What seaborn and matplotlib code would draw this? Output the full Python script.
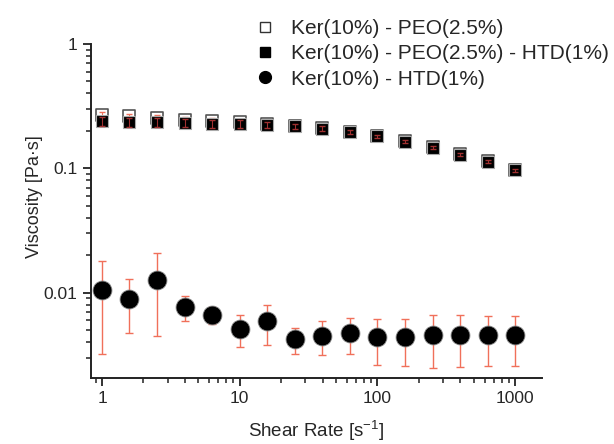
import numpy as np
import pandas as pd
import matplotlib
matplotlib.use("Agg")
import matplotlib.pyplot as plt
import seaborn as sns
from matplotlib.lines import Line2D
from matplotlib.ticker import LogLocator, NullFormatter, FixedLocator, FixedFormatter

shear = [1, 1.58, 2.51, 3.98, 6.31, 10, 15.8, 25.1, 39.8, 63.1, 100, 158, 251, 398, 631, 1000]

peo = [0.270, 0.262, 0.255, 0.247, 0.241, 0.236, 0.228, 0.220, 0.210, 0.197, 0.183, 0.165, 0.148, 0.130, 0.114, 0.097]
peo_err = [0.012, 0.012, 0.012, 0.011, 0.011, 0.01, 0.01, 0.008, 0.007, 0.006, 0.005, 0.004, 0.003, 0.003, 0.003, 0.002]

peo_htd = [0.239, 0.236, 0.235, 0.232, 0.229, 0.228, 0.225, 0.218, 0.209, 0.196, 0.182, 0.164, 0.147, 0.129, 0.113, 0.0964]
peo_htd_err = [0.02, 0.02, 0.019, 0.018, 0.016, 0.015, 0.012, 0.01, 0.008, 0.006, 0.005, 0.004, 0.004, 0.003, 0.003, 0.003]

htd = [0.0106, 0.0089, 0.0126, 0.0077, 0.00666, 0.0051, 0.0059, 0.00425, 0.00452, 0.00471, 0.0044, 0.0044, 0.00455, 0.0046, 0.0046, 0.0046]
htd_hi = [0.0180, 0.0129, 0.0207, 0.00934, 0.0077, 0.0066, 0.0079, 0.0052, 0.00593, 0.00627, 0.0061, 0.0062, 0.0066, 0.0066, 0.0065, 0.0065]
htd_lo = [0.00322, 0.00477, 0.00449, 0.00593, 0.00564, 0.00364, 0.0038, 0.0032, 0.00314, 0.0032, 0.00264, 0.00258, 0.0025, 0.00254, 0.00258, 0.00257]

labels = ["Ker(10%) - PEO(2.5%)", "Ker(10%) - PEO(2.5%) - HTD(1%)", "Ker(10%) - HTD(1%)"]

sns.set_style("ticks")
plt.rcParams['font.family'] = ['Liberation Sans', 'DejaVu Sans']

fig = plt.figure(figsize=(6.14, 4.44), dpi=100)
ax = fig.add_axes([0.148, 0.149, 0.735, 0.752])

red = "#f0705a"
dred = "#a03030"
df1 = pd.DataFrame({"x": shear, "y": peo})
df2 = pd.DataFrame({"x": shear, "y": peo_htd})
df3 = pd.DataFrame({"x": shear, "y": htd})

sns.scatterplot(data=df1, x="x", y="y", ax=ax, marker="s", s=85, facecolor="white",
                edgecolor="#555555", linewidth=1.2, zorder=2)
sns.scatterplot(data=df2, x="x", y="y", ax=ax, marker="s", s=85, color="black",
                edgecolor="#aaaaaa", linewidth=0.8, zorder=3)
sns.scatterplot(data=df3, x="x", y="y", ax=ax, marker="o", s=185, color="black",
                edgecolor="#888888", linewidth=0.6, zorder=2)

ax.errorbar(shear, peo, yerr=peo_err, fmt="none", ecolor=red, elinewidth=0.8, capsize=2, zorder=2.5)
ax.errorbar(shear, peo_htd, yerr=peo_htd_err, fmt="none", ecolor=dred, elinewidth=0.8, capsize=2, zorder=4)
h = np.array(htd)
ax.errorbar(shear, htd, yerr=[h - np.array(htd_lo), np.array(htd_hi) - h], fmt="none",
            ecolor=red, elinewidth=1, capsize=3, zorder=1)

ax.set_xscale("log")
ax.set_yscale("log")
ax.set_xlim(0.83, 1570)
ax.set_ylim(0.00207, 1.0)

ax.xaxis.set_major_locator(FixedLocator([1, 10, 100, 1000]))
ax.xaxis.set_major_formatter(FixedFormatter(["1", "10", "100", "1000"]))
ax.xaxis.set_minor_locator(LogLocator(base=10, subs=np.arange(2, 10)))
ax.xaxis.set_minor_formatter(NullFormatter())
ax.yaxis.set_major_locator(FixedLocator([0.01, 0.1, 1]))
ax.yaxis.set_major_formatter(FixedFormatter(["0.01", "0.1", "1"]))
ax.yaxis.set_minor_locator(LogLocator(base=10, subs=np.arange(2, 10)))
ax.yaxis.set_minor_formatter(NullFormatter())

ax.tick_params(which="major", direction="out", length=6, width=1.3, labelsize=12.5, color="#222222")
ax.tick_params(which="minor", direction="out", length=3.5, width=1.1, color="#222222")
for s in ["top", "right"]:
    ax.spines[s].set_visible(False)
for s in ["left", "bottom"]:
    ax.spines[s].set_linewidth(1.4)
    ax.spines[s].set_color("#222222")

ax.set_xlabel("Shear Rate [s$^{\\mathregular{-1}}$]", fontsize=13.5, labelpad=9)
ax.set_ylabel("Viscosity [Pa·s]", fontsize=13)
ax.yaxis.set_label_coords(-0.105, 0.542)

handles = [
    Line2D([], [], marker="s", linestyle="none", markersize=7, markerfacecolor="white", markeredgecolor="#333333"),
    Line2D([], [], marker="s", linestyle="none", markersize=7, markerfacecolor="black", markeredgecolor="black"),
    Line2D([], [], marker="o", linestyle="none", markersize=8.5, markerfacecolor="black", markeredgecolor="black"),
]
fig.legend(handles, labels, loc="upper left", bbox_to_anchor=(0.394, 0.985), frameon=False,
           fontsize=15, handletextpad=0.75, labelspacing=0.3, handlelength=1.0,
           borderaxespad=0.2)

fig.savefig("out.png", dpi=100)
